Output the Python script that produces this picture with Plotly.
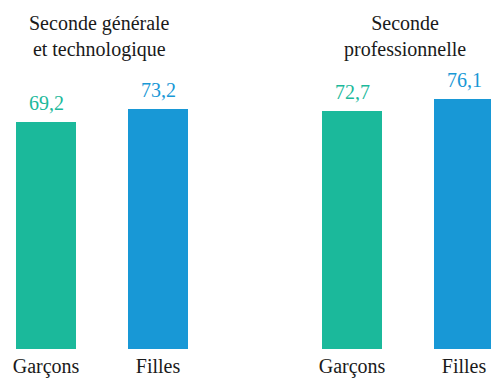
import plotly.graph_objects as go

# Values (%) by school track and sex
groups = ["Seconde générale<br>et technologique", "Seconde<br>professionnelle"]
sexes = ["Garçons", "Filles"]
values = {
    "Garçons": [69.2, 72.7],
    "Filles": [73.2, 76.1],
}
colors = {"Garçons": "#1bb99b", "Filles": "#1898d6"}

FONT = "Liberation Serif"
W, H = 491, 381
group_left = [46, 352]   # centre of the first bar in each group (px units on x)
bar_step = 112           # distance between bars inside a group
bar_w = 60

fig = go.Figure()
tickvals, ticktext = [], []
for i, sex in enumerate(sexes):
    xs = [g + i * bar_step for g in group_left]
    fig.add_trace(go.Bar(
        x=xs, y=values[sex], width=bar_w,
        marker=dict(color=colors[sex], line=dict(width=0)),
        showlegend=False, hoverinfo="skip",
    ))
    for x, v in zip(xs, values[sex]):
        tickvals.append(x)
        ticktext.append(sex)
        fig.add_annotation(
            x=x, y=v, xref="x", yref="y",
            text=f"{v:.1f}".replace(".", ","),
            showarrow=False, yanchor="bottom", yshift=6,
            font=dict(family=FONT, size=20, color=colors[sex]),
        )

for g, label in zip(group_left, groups):
    fig.add_annotation(
        x=g + bar_step / 2 - 3, y=1.0, xref="x", yref="paper",
        text=label, showarrow=False, yanchor="top", yshift=-10,
        font=dict(family=FONT, size=20, color="#1a1a1a"),
    )

fig.update_layout(
    template="none",
    width=W, height=H,
    margin=dict(l=0, r=0, t=0, b=32),
    paper_bgcolor="white", plot_bgcolor="white",
    bargap=0,
    xaxis=dict(range=[0, W], showgrid=False, zeroline=False, showline=False,
               tickvals=tickvals, ticktext=ticktext, ticks="",
               ticklabelstandoff=3,
               tickfont=dict(family=FONT, size=20, color="#1a1a1a")),
    yaxis=dict(range=[0, 349 / 3.28], visible=False, showgrid=False, zeroline=False),
)

fig.write_html("out.html")
